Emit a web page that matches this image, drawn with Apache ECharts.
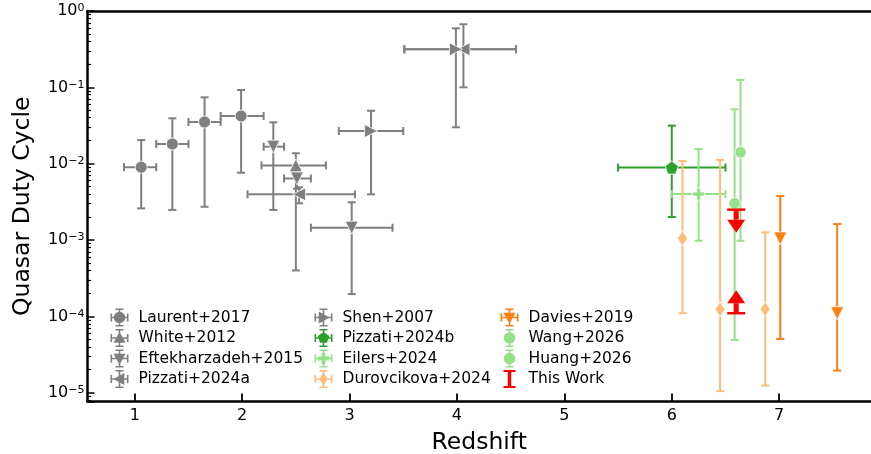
<!DOCTYPE html>
<html>
<head>
<meta charset="utf-8">
<script src="https://cdn.jsdelivr.net/npm/echarts@6/dist/echarts.min.js"></script>
<style>
  html, body { margin: 0; padding: 0; background: #ffffff; }
  #chart { width: 871px; height: 454px; }
</style>
</head>
<body>
<div id="chart"></div>
<script>
// ---------------- data: redshift, duty cycle and their ranges ----------------
const laurentZ      = [1.06, 1.35, 1.65, 1.99];
const laurentZRange = [[0.90, 1.20], [1.20, 1.50], [1.50, 1.80], [1.80, 2.20]];
const laurentDC     = [0.0090, 0.0181, 0.0352, 0.0421];
const laurentDCRange = [[0.0026, 0.0204], [0.00248, 0.0393], [0.00273, 0.074], [0.00762, 0.0923]];

const whiteZ      = [2.50];
const whiteZRange = [[2.18, 2.78]];
const whiteDC     = [0.0095];
const whiteDCRange = [[0.0004, 0.0137]];

const eftZ      = [2.29, 2.51, 3.02];
const eftZRange = [[2.20, 2.39], [2.39, 2.64], [2.64, 3.40]];
const eftDC     = [0.0167, 0.0064, 0.00145];
const eftDCRange = [[0.00248, 0.0348], [0.0047, 0.0085], [0.000196, 0.00312]];

const pizzatiAZ      = [2.53, 4.06];
const pizzatiAZRange = [[2.05, 3.05], [3.51, 4.55]];
const pizzatiADC     = [0.00397, 0.315];
const pizzatiADCRange = [[0.00303, 0.0049], [0.10, 0.67]];

const shenZ      = [3.20, 3.99];
const shenZRange = [[2.90, 3.50], [3.51, 4.55]];
const shenDC     = [0.0268, 0.315];
const shenDCRange = [[0.00397, 0.0494], [0.030, 0.593]];

const pizzatiBZ      = [6.00];
const pizzatiBZRange = [[5.50, 6.50]];
const pizzatiBDC     = [0.0089];
const pizzatiBDCRange = [[0.0020, 0.0315]];

const eilersZ      = [6.25];
const eilersZRange = [[6.00, 6.50]];
const eilersDC     = [0.0040];
const eilersDCRange = [[0.00098, 0.0156]];

const durovZ      = [6.10, 6.45, 6.87];
const durovZRange = [null, null, null];
const durovDC     = [0.00105, 0.000124, 0.000124];
const durovDCRange = [[0.00011, 0.0108], [0.0000105, 0.0112], [0.0000124, 0.00126]];

const daviesZ      = [7.01, 7.54];
const daviesZRange = [null, null];
const daviesDC     = [0.00105, 0.00011];
const daviesDCRange = [[0.0000506, 0.00377], [0.0000195, 0.00162]];

const wangZ      = [6.585];
const wangZRange = [null];
const wangDC     = [0.00303];
const wangDCRange = [[0.000049, 0.0516]];

const huangZ      = [6.64];
const huangZRange = [null];
const huangDC     = [0.0141];
const huangDCRange = [[0.00098, 0.125]];

// this work: limits on the duty cycle at z ~ 6.6
const thisWorkZ     = [6.6, 6.6];
const thisWorkLimit = [0.0025, 0.00011];
const thisWorkKind  = ['upper', 'lower'];

const xTicks = [1, 2, 3, 4, 5, 6, 7];

// ---------------- styling ----------------
const FONT = 'DejaVu Sans';
const GRAY = '#7f7f7f';
const DARK_GREEN = '#2ca02c';
const LIGHT_GREEN = '#98df8a';
const LIGHT_ORANGE = '#ffbb78';
const ORANGE = '#ff7f0e';
const RED = '#ff0000';

const X_MIN = 0.56, X_MAX = 7.855;
const Y_MIN_EXP = -5.115;
const Y_MIN = Math.pow(10, Y_MIN_EXP), Y_MAX = 1;

const PENTAGON = 'path://M0,-1L0.951,-0.309L0.588,0.809L-0.588,0.809L-0.951,-0.309Z';
const PLUS = 'path://M-0.34,-1L0.34,-1L0.34,-0.34L1,-0.34L1,0.34L0.34,0.34L0.34,1L-0.34,1L-0.34,0.34L-1,0.34L-1,-0.34L-0.34,-0.34Z';

// legend icon pieces (20 x 20 box, all drawn clockwise)
const ICON_BOX = 'M0 0 M20 20 ';
const ICON_HBAR = 'M1 9.2 L19 9.2 L19 10.8 L1 10.8 Z M1 6 L2.6 6 L2.6 14 L1 14 Z M17.4 6 L19 6 L19 14 L17.4 14 Z ';
const ICON_VBAR = 'M9.2 1 L10.8 1 L10.8 19 L9.2 19 Z M6 1 L14 1 L14 2.6 L6 2.6 Z M6 17.4 L14 17.4 L14 19 L6 19 Z ';
const ICON_MARK = {
  circle: 'M15.8 10 A5.8 5.8 0 1 1 4.2 10 A5.8 5.8 0 1 1 15.8 10 Z ',
  up: 'M10 3.8 L16 14.8 L4 14.8 Z ',
  down: 'M10 16.2 L4 5.2 L16 5.2 Z ',
  left: 'M3.8 10 L14.8 4 L14.8 16 Z ',
  right: 'M16.2 10 L5.2 16 L5.2 4 Z ',
  pentagon: 'M10 4 L15.7 8.1 L13.5 14.8 L6.5 14.8 L4.3 8.1 Z ',
  plus: 'M8.1 4.2 L11.9 4.2 L11.9 8.1 L15.8 8.1 L15.8 11.9 L11.9 11.9 L11.9 15.8 L8.1 15.8 L8.1 11.9 L4.2 11.9 L4.2 8.1 L8.1 8.1 Z ',
  diamond: 'M10 3 L14 10 L10 17 L6 10 Z '
};
function legendIcon(mark, withXBar) {
  return 'path://' + ICON_BOX + (withXBar ? ICON_HBAR : '') + ICON_VBAR + ICON_MARK[mark];
}
const THIS_WORK_ICON = 'path://' + ICON_BOX +
  'M4 1 L16 1 L16 3 L4 3 Z M8.3 3 L11.7 3 L11.7 17 L8.3 17 Z M4 17 L16 17 L16 19 L4 19 Z';

function rows(z, zRange, dc, dcRange) {
  return z.map((zi, i) => {
    const zr = zRange[i] || [zi, zi];
    const dr = dcRange[i] || [dc[i], dc[i]];
    return [zi, dc[i], zr[0], zr[1], dr[0], dr[1]];
  });
}

const groups = [
  { name: 'Laurent+2017', color: GRAY, symbol: 'circle', size: 12, rotate: 0, mark: 'circle', xbar: true,
    data: rows(laurentZ, laurentZRange, laurentDC, laurentDCRange) },
  { name: 'White+2012', color: GRAY, symbol: 'triangle', size: 13, rotate: 0, mark: 'up', xbar: true,
    data: rows(whiteZ, whiteZRange, whiteDC, whiteDCRange) },
  { name: 'Eftekharzadeh+2015', color: GRAY, symbol: 'triangle', size: 13, rotate: 180, mark: 'down', xbar: true,
    data: rows(eftZ, eftZRange, eftDC, eftDCRange) },
  { name: 'Pizzati+2024a', color: GRAY, symbol: 'triangle', size: 13, rotate: 90, mark: 'left', xbar: true,
    data: rows(pizzatiAZ, pizzatiAZRange, pizzatiADC, pizzatiADCRange) },
  { name: 'Shen+2007', color: GRAY, symbol: 'triangle', size: 13, rotate: -90, mark: 'right', xbar: true,
    data: rows(shenZ, shenZRange, shenDC, shenDCRange) },
  { name: 'Pizzati+2024b', color: DARK_GREEN, symbol: PENTAGON, size: 13, rotate: 0, mark: 'pentagon', xbar: true,
    data: rows(pizzatiBZ, pizzatiBZRange, pizzatiBDC, pizzatiBDCRange) },
  { name: 'Eilers+2024', color: LIGHT_GREEN, symbol: PLUS, size: 12, rotate: 0, mark: 'plus', xbar: true,
    data: rows(eilersZ, eilersZRange, eilersDC, eilersDCRange) },
  { name: 'Durovcikova+2024', color: LIGHT_ORANGE, symbol: 'diamond', size: [10, 15], rotate: 0, mark: 'diamond', xbar: true,
    data: rows(durovZ, durovZRange, durovDC, durovDCRange) },
  { name: 'Davies+2019', color: ORANGE, symbol: 'triangle', size: 13, rotate: 180, mark: 'down', xbar: true,
    data: rows(daviesZ, daviesZRange, daviesDC, daviesDCRange) },
  { name: 'Wang+2026', color: LIGHT_GREEN, symbol: 'circle', size: 11.5, rotate: 0, mark: 'circle', xbar: false,
    data: rows(wangZ, wangZRange, wangDC, wangDCRange) },
  { name: 'Huang+2026', color: LIGHT_GREEN, symbol: 'circle', size: 11.5, rotate: 0, mark: 'circle', xbar: false,
    data: rows(huangZ, huangZRange, huangDC, huangDCRange) }
];

// error bars with caps, drawn in pixel space from the data through the axes
function errorBarRenderer(capHalf, width) {
  return function (params, api) {
    const color = api.visual('color');
    const z = api.value(0), v = api.value(1);
    const zlo = api.value(2), zhi = api.value(3), vlo = api.value(4), vhi = api.value(5);
    const children = [];
    const seg = (p, q) => children.push({
      type: 'line',
      shape: { x1: p[0], y1: p[1], x2: q[0], y2: q[1] },
      style: { stroke: color, lineWidth: width }
    });
    if (zhi > zlo) {
      const a = api.coord([zlo, v]), b = api.coord([zhi, v]);
      seg(a, b);
      seg([a[0], a[1] - capHalf], [a[0], a[1] + capHalf]);
      seg([b[0], b[1] - capHalf], [b[0], b[1] + capHalf]);
    }
    if (vhi > vlo) {
      const a = api.coord([z, vlo]), b = api.coord([z, vhi]);
      seg(a, b);
      seg([a[0] - capHalf, a[1]], [a[0] + capHalf, a[1]]);
      seg([b[0] - capHalf, b[1]], [b[0] + capHalf, b[1]]);
    }
    return { type: 'group', children: children };
  };
}

// limit arrows: cap at the limit, thick stem, filled head pointing away
function limitRenderer(params, api) {
  const color = api.visual('color');
  const z = api.value(0), v = api.value(1), tipV = api.value(2);
  const p = api.coord([z, v]), t = api.coord([z, tipV]);
  const dir = t[1] > p[1] ? 1 : -1;
  const headLen = 13, headHalf = 9, capHalf = 9;
  const base = t[1] - dir * headLen;
  return {
    type: 'group',
    children: [
      { type: 'line', shape: { x1: p[0] - capHalf, y1: p[1], x2: p[0] + capHalf, y2: p[1] },
        style: { stroke: color, lineWidth: 2.5 } },
      { type: 'line', shape: { x1: p[0], y1: p[1], x2: p[0], y2: base },
        style: { stroke: color, lineWidth: 5 } },
      { type: 'polygon', shape: { points: [[t[0] - headHalf, base], [t[0] + headHalf, base], [t[0], t[1]]] },
        style: { fill: color } }
    ]
  };
}

const series = [];
groups.forEach(g => {
  series.push({
    name: g.name,
    type: 'custom',
    renderItem: errorBarRenderer(4, 2),
    dimensions: ['z', 'dc', 'zlo', 'zhi', 'dclo', 'dchi'],
    encode: { x: 0, y: 1 },
    itemStyle: { color: g.color, borderWidth: 0 },
    data: g.data,
    z: 2
  });
  series.push({
    name: g.name,
    type: 'scatter',
    symbol: g.symbol,
    symbolSize: g.size,
    symbolRotate: g.rotate,
    itemStyle: { color: g.color, opacity: 1, borderColor: '#ffffff', borderWidth: 0.8 },
    data: g.data.map(r => [r[0], r[1]]),
    z: 2
  });
});
series.push({
  name: 'This Work',
  type: 'custom',
  renderItem: limitRenderer,
  encode: { x: 0, y: 1 },
  itemStyle: { color: RED },
  data: thisWorkZ.map((z, i) => [z, thisWorkLimit[i],
    thisWorkKind[i] === 'upper' ? thisWorkLimit[i] / 2 : thisWorkLimit[i] * 2]),
  z: 3
});

const iconFor = {};
groups.forEach(g => { iconFor[g.name] = legendIcon(g.mark, g.xbar); });
iconFor['This Work'] = THIS_WORK_ICON;

const legendColumns = [
  ['Laurent+2017', 'White+2012', 'Eftekharzadeh+2015', 'Pizzati+2024a'],
  ['Shen+2007', 'Pizzati+2024b', 'Eilers+2024', 'Durovcikova+2024'],
  ['Davies+2019', 'Wang+2026', 'Huang+2026', 'This Work']
];
const legendLefts = [109.5, 313.5, 499.5];
const legends = legendColumns.map((col, i) => ({
  orient: 'vertical',
  left: legendLefts[i],
  top: 307.5,
  padding: 0,
  itemGap: 0.5,
  itemWidth: 28,
  itemHeight: 20,
  selectedMode: false,
  itemStyle: { borderWidth: 0 },
  textStyle: { fontFamily: FONT, fontSize: 15.5, color: '#000', lineHeight: 20 },
  data: col.map(n => ({ name: n, icon: iconFor[n] }))
}));

// minor ticks of the log axis, in decades
const minorTickExps = [];
for (let n = -6; n < 0; n++) {
  for (let k = 2; k <= 9; k++) {
    const e = n + Math.log10(k);
    if (e > Y_MIN_EXP && e < 0) minorTickExps.push(e);
  }
}

const chart = echarts.init(document.getElementById('chart'), null, { renderer: 'canvas' });
chart.setOption({
  animation: false,
  backgroundColor: '#ffffff',
  grid: {
    left: 87.5, top: 11, width: 783.5, height: 390.5,
    containLabel: false,
    outerBoundsMode: 'none',
    show: false
  },
  legend: legends,
  xAxis: [
    {
      type: 'value',
      min: X_MIN, max: X_MAX,
      position: 'bottom',
      name: 'Redshift',
      nameLocation: 'middle',
      nameGap: 29,
      nameTextStyle: { fontFamily: FONT, fontSize: 23.5, color: '#000' },
      axisLine: { show: true, onZero: false, lineStyle: { color: '#000', width: 2.5 } },
      axisTick: { show: true, inside: true, length: 8, customValues: xTicks, lineStyle: { color: '#000', width: 1.8 } },
      axisLabel: { show: true, margin: 6, customValues: xTicks, fontFamily: FONT, fontSize: 16, color: '#000' },
      splitLine: { show: false }
    },
    {
      // top spine, no ticks
      type: 'value',
      min: X_MIN, max: X_MAX,
      position: 'top',
      axisLine: { show: true, onZero: false, lineStyle: { color: '#000', width: 2.5 } },
      axisTick: { show: false },
      axisLabel: { show: false },
      splitLine: { show: false }
    }
  ],
  yAxis: [
    {
      type: 'log',
      logBase: 10,
      min: Y_MIN, max: Y_MAX,
      position: 'left',
      name: 'Quasar Duty Cycle',
      nameLocation: 'middle',
      nameGap: 53,
      nameTextStyle: { fontFamily: FONT, fontSize: 23.5, color: '#000' },
      axisLine: { show: true, onZero: false, lineStyle: { color: '#000', width: 2.5 } },
      axisTick: { show: true, inside: true, length: 7, lineStyle: { color: '#000', width: 1.5 } },
      minorTick: { show: false },
      axisLabel: {
        show: true,
        margin: 3,
        formatter: function (v) {
          const e = Math.log10(v);
          const r = Math.round(e);
          if (Math.abs(e - r) > 1e-3) return '';
          return '{b|10}{s|' + (r < 0 ? '\u2212' + (-r) : String(r)) + '}';
        },
        rich: {
          b: { fontFamily: FONT, fontSize: 16, color: '#000', lineHeight: 16, padding: [4, 0, 0, 0], verticalAlign: 'bottom' },
          s: { fontFamily: FONT, fontSize: 11, color: '#000', lineHeight: 6, verticalAlign: 'top' }
        }
      },
      splitLine: { show: false }
    },
    {
      type: 'value',
      min: Y_MIN_EXP, max: 0,
      position: 'left',
      axisLine: { show: false, onZero: false },
      axisTick: { show: true, inside: true, length: 3.5, customValues: minorTickExps, lineStyle: { color: '#000', width: 1.2 } },
      axisLabel: { show: false },
      splitLine: { show: false }
    }
  ],
  series: series
});
</script>
</body>
</html>
